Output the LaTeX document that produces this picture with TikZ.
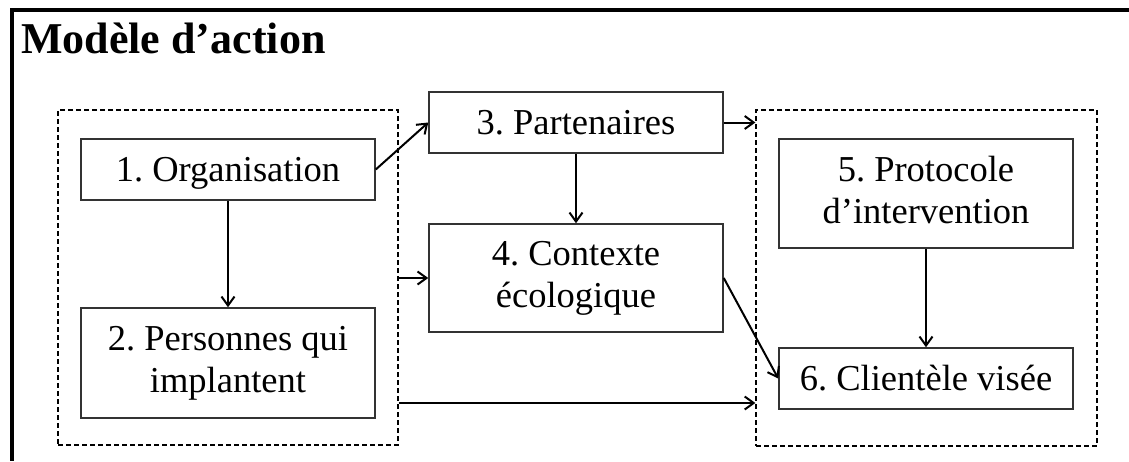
\documentclass[tikz,border=0pt]{standalone}
\usepackage{fontspec}
\setmainfont{Liberation Serif}
\usetikzlibrary{arrows.meta, positioning}
\frenchspacing
\newcommand{\boxstrut}{\rule[-0.216em]{0pt}{1.107em}}

\begin{document}
\begin{tikzpicture}[x=1pt, y=-1pt,
  box/.style={draw=black!80, line width=1.5pt, minimum width=294pt, inner sep=0pt,
    align=center, font=\fontsize{36.5}{42}\selectfont,
    execute at begin node=\boxstrut, execute at end node=\boxstrut},
  group/.style={draw, dash pattern=on 5pt off 3pt, line width=1.2pt, inner sep=0pt},
  arr/.style={-{Straight Barb[length=9pt,width=13pt]}, line width=2pt}]
\useasboundingbox (0,0) rectangle (1129,461);
\draw [line width=3.5pt] (1129,10) -- (12,10) -- (12,461);
\node (title) at (21,53) [anchor=base west, inner sep=0pt, font=\fontsize{44}{50}\selectfont\bfseries] {Modèle d’action};
% dashed groups
\node (lgrp) at (228,277.5) [group, minimum width=340pt, minimum height=335pt] {};
\node (rgrp) at (926.5,278) [group, minimum width=341pt, minimum height=336pt] {};
% boxes
\node (b1) at (228,169.5) [box, minimum height=61pt] {1. Organisation};
\node (b2) at (228,363) [box, minimum height=110pt] {2. Personnes qui\\implantent};
\node (b3) at (576,122.5) [box, minimum height=61pt] {3. Partenaires};
\node (b4) at (576,278) [box, minimum height=108pt] {4. Contexte\\écologique};
\node (b5) at (926,193.5) [box, minimum height=109pt] {5. Protocole\\d’intervention};
\node (b6) at (926,378.5) [box, minimum height=61pt] {6. Clientèle visée};
% arrows
\coordinate (low) at (0,403);
\draw [arr] (b1.south) -- (b2.north);
\draw [arr] (b3.south) -- (b4.north);
\draw [arr] (b5.south) -- (b6.north);
\draw [arr] (b1.east) -- (b3.west);
\draw [arr] (b3.east) -- (b3.east -| rgrp.west);
\draw [arr] (b4.west -| lgrp.east) -- (b4.west);
\draw [arr] (b4.east) -- (b6.west);
\draw [arr] (low -| lgrp.east) -- (low -| rgrp.west);
\end{tikzpicture}
\end{document}
